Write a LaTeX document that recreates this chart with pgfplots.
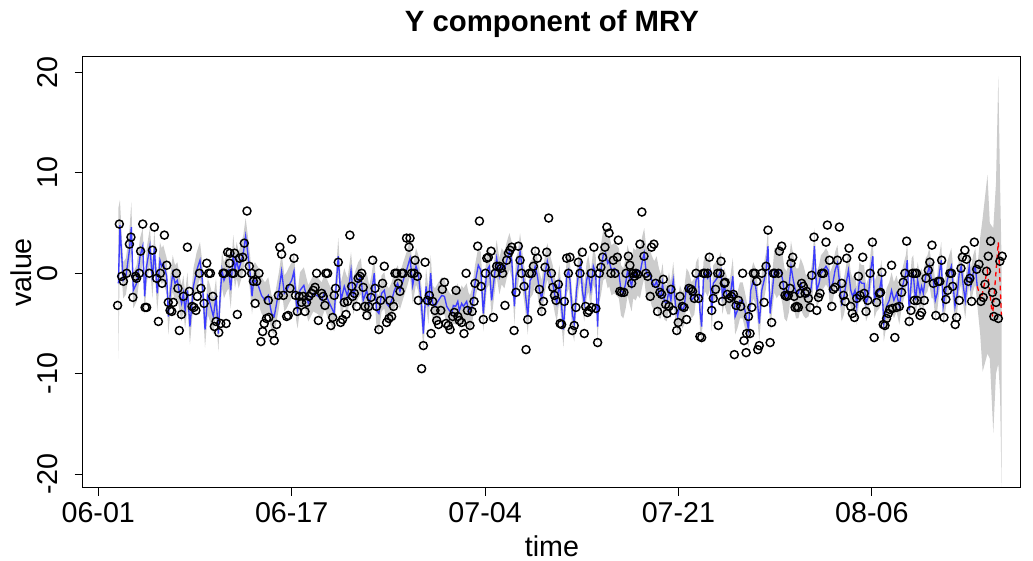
\documentclass[border=0pt]{standalone}
\usepackage{pgfplots}
\pgfplotsset{compat=1.18}
\usepackage{pgfplotstable}
\usepgfplotslibrary{fillbetween}
\usepackage{fontspec}
\setmainfont{Liberation Sans}
\definecolor{bandgray}{RGB}{204,204,204}
\definecolor{fitblue}{RGB}{60,60,255}

\pgfplotstableread{
x y
10.0 -3.2
10.9 4.9
12.1 -0.3
13.0 -0.8
14.7 0
16.1 2.9
16.9 3.6
17.9 -2.4
19.3 -0.3
19.8 -0.5
21.2 0
21.9 2.2
23.0 4.9
24.2 -3.4
25.0 -3.4
26.4 0
28.0 2.3
29.0 4.6
30.2 -0.5
31.1 -4.8
32.1 0
33.0 -1.0
34.2 3.8
35.4 0.8
36.2 -2.9
37.1 -3.7
38.0 -3.8
38.8 -2.9
40.4 0
41.2 -1.5
41.9 -5.7
43.0 -4.1
44.0 -2.3
46.1 2.6
47.1 -1.8
48.5 -3.3
49.5 -3.4
50.5 -3.7
51.2 -2.3
52.3 0
53.1 -1.5
54.7 -3.0
56.1 1.0
57.1 0
58.0 0
59.2 -2.3
60.0 -5.3
60.9 -4.8
62.3 -5.9
63.3 -5.0
64.5 0
65.2 0
66.1 -5.0
66.9 2.1
67.9 1.0
68.1 2.0
69.2 0
70.0 0
70.5 2.0
71.9 -4.1
73.0 1.5
74.2 0
74.7 1.6
75.5 3.0
76.9 6.2
78.1 0.7
79.3 0
80.2 -0.8
81.1 -3.0
81.9 -0.8
83.1 0
84.1 -6.8
85.0 -5.8
85.8 -5.0
87.0 -4.5
87.9 -2.7
88.2 -4.4
90.1 -6.0
91.0 -6.7
92.2 -5.1
93.1 -2.2
93.9 2.6
94.8 1.9
95.7 -2.2
97.4 -4.3
98.2 -4.2
99.1 -1.5
100.0 3.4
101.2 1.5
102.0 -2.2
102.9 -3.8
103.9 -2.3
105.1 -2.9
106.0 -2.3
106.9 -3.8
107.7 -2.9
108.9 -2.3
110.3 -2.0
111.2 -1.7
112.1 -1.4
112.9 0
113.8 -4.7
115.5 -2.0
116.3 -2.3
117.2 -3.2
117.7 0
118.6 0
120.3 -5.2
121.2 -4.4
122.0 -2.2
122.7 -1.5
124.1 1.1
125.3 -4.9
126.3 -4.6
127.2 -2.9
128.1 -4.1
128.9 -2.8
130.1 3.8
131.0 -1.3
131.5 -2.3
132.4 -2.0
133.6 -3.3
134.4 -0.5
135.3 -0.3
136.2 0
137.0 -1.4
137.9 -3.3
138.9 -4.2
139.8 -3.3
141.0 -2.4
141.9 1.3
143.1 -1.5
143.9 -3.3
145.1 -5.6
146.0 -2.7
147.0 -1.0
147.9 0.7
149.1 -4.9
150.3 -4.5
150.8 -2.7
151.7 -4.3
152.7 -3.3
153.4 0
154.3 0
155.1 -1.0
156.0 -1.8
156.9 0
157.7 0
159.4 3.5
160.7 2.6
161.2 3.5
162.0 0
163.3 0
163.8 1.3
165.0 -0.3
165.5 -2.7
167.2 -9.5
168.1 -7.2
169.0 1.1
170.2 -2.7
171.2 -2.2
172.1 -6.0
172.9 -2.8
174.1 -3.7
175.0 -4.7
175.9 -5.1
177.1 -3.7
177.9 -1.6
179.0 -0.9
179.8 -5.0
181.0 -5.2
181.9 -5.6
183.3 -4.3
184.1 -3.9
185.0 -1.7
185.9 -4.3
186.7 -4.7
187.9 -4.9
189.1 -6.0
190.2 0
190.9 -3.7
192.2 -5.2
193.3 -3.8
194.3 -2.8
194.8 -1.0
196.2 2.7
197.1 5.2
197.9 -1.3
199.1 -4.6
200.2 0
200.9 1.5
201.7 1.6
203.1 2.2
204.3 -4.4
205.2 0
206.0 0.7
207.4 0.7
208.3 0.5
209.1 0
210.3 -3.2
211.2 1.3
212.1 2.0
212.9 2.3
213.8 2.6
215.0 -5.7
216.0 -1.9
217.2 2.7
218.1 1.3
218.9 0
220.2 -1.3
221.2 -7.6
222.1 -4.6
222.9 0
224.1 0
225.0 0.7
226.0 2.2
227.1 1.5
228.1 -1.6
229.3 -3.8
230.2 -2.8
231.0 0.6
231.9 2.1
232.9 5.5
234.3 0
235.0 -1.4
235.9 -2.2
236.7 -2.7
237.9 -1.1
238.8 -5.0
239.6 -5.1
241.0 -2.8
242.2 1.5
243.1 0
243.9 1.6
245.1 -5.7
246.1 -5.2
247.0 -3.4
248.2 1.1
249.1 0
250.3 2.1
251.3 -6.0
252.0 -3.3
253.0 -3.9
253.7 -3.7
254.8 0
255.1 -3.4
256.3 2.6
257.3 -3.5
258.2 -6.9
259.1 0
259.9 0.6
260.8 1.6
262.0 2.6
263.0 4.6
264.1 4.0
265.1 0
266.3 1.3
267.2 0
268.4 1.6
268.9 3.3
269.7 -1.8
270.6 -1.9
271.8 -1.9
272.9 0
274.1 1.7
274.9 0.8
275.8 -1.0
276.6 0
277.2 -0.3
278.0 0
278.9 -0.1
280.1 2.9
281.1 6.1
282.2 1.7
283.2 0
284.1 -0.3
285.4 -2.3
286.1 2.6
287.3 2.9
288.2 -1.0
289.2 -3.8
290.4 -1.9
291.3 -2.1
292.2 -0.6
293.4 -3.1
294.1 -4.0
295.1 -3.3
296.1 -1.6
297.3 -3.7
299.1 -5.7
299.9 -4.9
300.8 -2.3
302.0 -3.3
302.9 -3.4
304.2 -4.6
305.4 -1.5
306.5 -1.6
307.3 -1.8
308.2 -2.5
309.1 0
310.3 -2.5
311.1 -6.3
312.0 -6.4
312.9 0
313.7 0
315.1 0
316.0 1.6
317.2 -3.7
318.0 -2.5
319.2 -1.6
320.3 0
320.6 -5.2
321.5 0
322.0 1.2
322.7 -2.8
323.7 -1.0
324.1 -0.9
325.3 -2.1
326.3 -2.5
327.5 -2.3
328.4 -2.1
328.9 -8.1
329.8 -3.2
331.0 -2.7
332.2 -3.3
333.2 0
333.9 -6.7
335.0 -7.9
335.3 -6.0
336.2 -4.3
337.0 -6.0
337.9 -3.4
338.7 0
339.6 0
340.5 -0.8
341.0 -7.6
341.8 -7.2
343.1 0
344.3 -2.9
345.3 0.7
346.3 4.3
347.4 -6.9
348.2 -4.9
349.1 0
349.9 0
351.7 0
352.2 2.2
353.4 2.7
354.3 -1.2
355.1 -2.2
356.0 -2.3
356.8 -2.2
357.7 -1.5
358.2 1.0
359.1 1.6
359.8 -2.3
360.3 -3.4
361.2 -3.3
362.0 -3.4
362.9 -2.0
363.7 -1.0
364.6 -1.3
365.5 -2.0
366.3 -1.8
367.2 -2.5
368.1 -3.4
368.9 -0.2
370.1 3.6
371.5 -3.7
372.4 -2.4
373.2 -2.0
374.1 0
375.0 0
376.3 3.1
377.0 4.8
378.1 1.3
379.3 -3.3
380.1 -1.6
381.0 -1.4
382.2 1.3
383.2 4.6
384.4 -1.0
385.3 -2.2
386.2 -2.8
387.0 1.5
388.2 2.5
389.1 -3.3
389.9 -4.0
391.0 -4.4
392.2 -2.5
393.1 -0.3
393.9 -2.2
395.3 1.6
396.0 -2.0
397.0 -3.8
397.9 -2.7
399.1 0
400.3 3.1
401.2 -6.4
402.5 -2.9
403.9 -2.0
404.5 -1.9
405.2 0.1
405.9 -5.1
406.8 -5.2
407.6 -4.5
408.5 -4.0
409.3 -3.6
410.2 0.8
410.7 -3.5
411.9 -6.4
412.8 -3.4
414.2 -3.3
415.4 -1.9
416.2 -0.9
417.1 0
418.0 3.2
419.3 -4.8
420.2 -3.7
421.1 0
421.9 -2.7
422.3 0
423.1 0
423.4 -2.7
424.9 -4.2
425.7 -3.9
427.1 -2.7
428.0 -0.5
429.2 0.3
430.0 1.1
431.1 2.8
431.8 -1.0
433.1 -4.2
434.3 -0.8
435.2 -0.8
436.1 1.3
437.3 -4.4
438.3 -2.6
439.2 -1.7
440.4 0
441.2 0
441.8 -1.3
443.1 -5.1
443.8 -4.4
445.2 -2.7
446.1 0.5
446.8 1.6
448.1 2.3
449.0 1.4
449.9 -0.8
450.7 -0.5
451.6 -2.8
453.0 3.1
454.2 0.4
455.4 0.9
456.4 -2.8
457.6 -2.4
458.5 -1.1
459.3 0.2
460.2 1.7
461.4 3.2
462.4 -1.9
463.1 -4.3
464.2 -2.9
465.4 -4.5
466.2 1.2
467.4 1.7
}\obs

\pgfplotstableread{
x f w
10.4 -1.0 7.5
11.2 4.8 2.5
12.9 -0.7 1.8
14.3 -0.3 1.8
16.1 2.3 2.0
17.1 4.6 2.5
18.1 -1.7 1.8
19.8 -1.0 1.8
21.6 1.7 1.8
23.0 2.7 1.8
24.0 -2.3 1.8
25.0 0.7 1.8
26.7 2.7 1.8
28.0 -0.7 1.8
29.0 2.5 1.8
30.5 -2.0 1.8
31.9 1.3 1.8
32.8 0.7 1.8
33.6 1.0 1.8
35.4 -0.3 1.8
36.2 -4.3 1.8
37.4 -1.7 1.8
38.5 0 1.8
39.7 -1.0 1.8
40.9 -0.7 1.8
42.3 -2.3 1.8
43.1 -3.0 1.8
44.0 -2.0 1.8
44.9 -3.7 1.8
46.1 -1.7 1.8
47.4 -5.3 1.8
49.2 -1.3 1.8
50.9 0.3 1.8
52.6 1.3 1.8
53.8 -0.7 1.8
55.2 -5.6 1.8
56.6 -2.3 1.8
57.8 -3.0 1.8
59.5 -4.3 1.8
60.9 -2.3 1.8
62.1 -6.0 1.8
63.0 -2.3 1.8
64.0 0.3 1.8
65.0 -0.7 1.8
66.4 0 1.8
67.4 0.3 1.8
68.5 -1.7 1.8
69.8 2.0 1.8
70.7 0.3 1.8
71.6 1.3 1.8
72.6 0.3 1.8
73.6 1.0 1.8
75.0 2.0 1.8
76.2 3.7 1.8
77.3 2.0 1.8
78.5 0 1.8
79.5 -2.3 1.8
80.2 -1.0 1.8
81.0 -0.7 1.8
82.7 -1.2 1.8
84.4 -2.2 1.8
86.2 -2.7 1.8
87.9 -2.2 1.8
89.6 -4.0 1.8
91.0 -4.3 1.8
92.2 -3.0 1.8
93.4 -1.7 1.8
94.8 0.2 1.8
96.2 -2.0 1.8
97.4 -1.7 1.8
98.6 -1.2 1.8
100.0 -0.7 1.8
101.2 0.2 1.8
102.4 -3.0 1.8
103.1 -3.7 1.8
104.3 -1.7 1.8
106.3 -1.2 1.8
108.6 -3.0 1.8
111.2 -2.0 1.8
113.8 -2.3 1.8
115.5 -2.7 1.8
117.2 -1.8 1.8
118.9 -2.7 1.8
122.0 -4.0 1.8
124.1 1.7 1.8
125.5 -2.7 1.8
127.2 -1.3 1.8
128.9 -2.3 1.8
130.7 0.3 1.8
131.9 -2.3 1.8
132.7 -1.7 1.8
134.4 -0.7 1.8
135.8 -0.3 1.8
137.0 -2.7 1.8
138.8 -1.7 1.8
140.1 -3.0 1.8
141.3 -2.0 1.8
142.7 0 1.8
143.9 -3.7 1.8
145.1 -4.0 1.8
146.5 -2.0 1.8
147.9 -1.7 1.8
149.1 -3.0 1.8
150.3 -3.3 1.8
151.7 -2.7 1.8
153.1 -1.7 1.8
154.8 -1.0 1.8
156.0 -1.8 1.8
157.7 -0.7 1.8
159.4 0.3 1.8
161.2 1.5 1.8
162.6 -1.2 1.8
164.3 0.7 1.8
165.5 0 1.8
167.2 -3.3 1.8
168.1 -6.0 1.8
169.5 -1.3 1.8
170.7 -3.3 1.8
171.9 0 1.8
172.9 -3.0 1.8
174.1 -3.3 1.8
175.9 -2.7 1.8
177.6 -2.2 1.8
179.0 -2.3 1.8
180.2 -3.3 1.8
181.5 -3.7 1.8
182.8 -4.0 1.8
183.6 -3.2 1.8
184.8 -3.3 1.8
185.9 -2.8 1.8
186.7 -3.7 1.8
187.9 -3.0 1.8
188.8 -3.3 1.8
190.5 -2.8 1.8
191.4 -3.7 1.8
192.2 -4.0 1.8
193.3 -3.3 1.8
194.8 -1.0 1.8
196.5 0.8 1.8
197.8 0.3 1.8
199.1 -4.0 1.8
200.9 0.3 1.8
202.2 0.7 1.8
203.4 -2.7 1.8
204.6 -0.7 1.8
206.0 1.5 1.8
207.4 -0.3 1.8
208.6 0.7 1.8
210.0 0.3 1.8
211.2 1.3 1.8
212.6 2.2 1.8
213.8 1.3 1.8
215.2 -3.3 1.8
216.0 -0.3 1.8
216.9 0.3 1.8
218.1 2.2 1.8
219.5 0 1.8
220.7 -1.7 1.8
222.1 -4.3 1.8
223.3 -0.7 1.8
224.7 -0.3 1.8
225.9 0.7 1.8
227.1 -0.3 1.8
228.1 -1.7 1.8
229.3 -2.5 1.8
231.0 0 1.8
232.2 1.2 1.8
233.6 0 1.8
235.0 -1.0 1.8
236.2 -2.3 1.8
237.1 -3.0 1.8
238.4 -1.0 1.8
239.6 -3.3 1.8
240.5 -5.6 1.8
241.4 -3.0 1.8
242.2 -0.3 1.8
243.2 0.3 1.8
243.9 -0.7 1.8
245.1 -4.0 1.8
246.1 -5.0 1.8
247.3 -1.7 1.8
248.5 0.3 1.8
249.4 1.0 1.8
250.3 -1.7 1.8
251.3 -3.0 1.8
252.5 -0.7 1.8
253.4 0 1.8
254.7 -1.7 1.8
256.0 0.7 1.8
257.2 0 1.8
258.2 -5.3 1.8
259.1 -0.7 2.2
259.9 0.3 2.5
261.1 1.8 2.5
262.3 2.0 2.5
263.4 1.0 2.5
264.2 1.2 2.5
265.4 0.3 2.5
266.8 0.5 2.5
268.0 0.3 2.5
269.2 0 2.5
270.3 -1.7 2.5
271.5 -2.0 2.5
272.7 -1.0 2.5
273.7 0.3 2.5
274.9 -0.7 2.5
275.8 -1.3 2.5
276.6 0 2.5
277.9 -0.2 2.5
278.9 0.3 2.5
280.1 0 2.5
281.3 1.2 2.5
282.3 2.0 2.5
283.2 0.3 2.5
284.1 -0.3 2.5
285.3 0 2.5
286.1 -0.7 2.5
287.5 -1.3 2.5
288.7 -0.8 2.5
289.9 -2.0 2.5
290.9 -2.3 2.2
291.8 -1.0 2.0
292.7 -2.8 1.8
293.9 -3.0 1.8
295.1 -1.7 1.8
296.1 -2.7 1.8
297.3 -0.7 1.8
298.5 -3.2 1.8
299.6 -4.3 1.8
300.8 -3.0 1.8
302.0 -3.7 1.8
303.0 -3.3 1.8
304.2 -1.3 1.8
305.4 -1.7 1.8
306.8 -2.7 1.8
308.2 -2.3 1.8
309.1 -0.7 1.8
310.3 -0.2 1.8
311.1 -3.7 1.8
312.0 -5.3 1.8
312.9 -0.7 1.8
313.7 0 1.8
315.1 -0.5 1.8
316.3 0.2 1.8
317.2 -4.0 1.8
318.0 -1.0 1.8
319.2 -0.7 1.8
320.6 -0.3 1.8
322.0 0.3 1.8
322.7 -2.3 1.8
323.7 -1.3 1.8
325.3 -2.3 1.8
326.7 -2.3 1.8
328.1 -0.3 1.8
329.3 -4.3 1.8
330.5 -3.7 1.8
331.8 -2.7 1.8
333.2 -2.7 1.8
334.4 -3.7 1.8
336.2 -5.6 1.8
337.4 -1.7 1.8
338.7 -0.7 1.8
339.9 -1.3 1.8
340.8 -2.7 1.8
341.8 -5.0 1.8
343.1 -1.7 1.8
344.3 -0.7 1.8
345.3 0.3 1.8
346.3 2.7 1.8
347.4 -4.0 1.8
348.6 -1.7 1.8
349.6 0.3 2.2
350.8 0 2.5
351.7 0.3 2.5
352.9 0.3 2.5
353.9 -0.7 2.5
354.8 -2.0 2.5
356.0 -2.3 2.5
357.2 -1.3 2.5
358.2 0.7 2.5
359.4 -0.7 2.5
360.8 -2.0 2.5
362.0 -2.0 2.5
363.2 -1.0 2.5
364.6 -1.7 2.5
365.8 -2.3 2.2
367.2 -2.3 2.0
368.4 -1.7 1.8
369.4 -0.3 1.8
370.3 2.7 1.8
371.5 -1.7 1.8
372.7 -1.0 1.8
373.7 0 1.8
375.0 0.3 1.8
376.3 0.7 1.8
377.5 0.3 1.8
378.4 -1.7 1.8
379.8 -1.0 1.8
381.0 0.3 1.8
382.2 1.0 1.8
383.2 -0.7 1.8
384.4 -3.0 1.8
385.6 -2.3 1.8
386.7 -1.0 1.8
387.9 0.3 1.8
389.1 -1.7 1.8
390.1 -2.3 1.8
391.3 -1.7 1.8
392.2 -3.3 1.8
393.6 -0.7 1.8
394.8 -1.0 1.8
396.0 -1.0 1.8
397.0 -3.0 1.8
398.2 -2.3 1.8
399.4 0.3 1.8
400.5 1.7 1.8
401.3 -2.7 1.8
402.5 -2.0 1.8
403.9 -1.7 1.8
405.0 -0.5 1.8
406.2 -5.0 1.8
407.6 -3.3 1.8
409.0 -2.7 1.8
410.2 -1.7 1.8
411.4 -2.7 1.8
412.8 -2.0 1.8
414.2 -3.3 1.8
415.4 -1.7 1.8
416.6 -0.7 1.8
417.6 0 1.8
418.3 1.3 1.8
419.3 -3.7 1.8
420.6 -0.3 1.8
421.4 0 1.8
422.6 -2.7 1.8
423.7 -0.7 1.8
424.9 -2.0 1.8
425.7 -1.3 1.8
426.6 -2.0 1.8
427.8 -0.3 1.8
428.8 0 1.8
429.7 0.7 1.8
430.9 -0.7 1.8
431.8 -0.7 1.8
432.8 -2.7 1.8
433.8 -2.0 1.8
434.9 0 1.8
435.9 1.3 1.8
436.9 -3.3 1.8
438.0 -2.0 1.8
439.0 -0.7 1.8
440.0 0 1.8
441.1 0.7 1.8
442.1 -1.3 1.8
443.0 -3.3 1.8
444.2 -2.0 1.8
445.2 0 1.8
446.2 0.7 1.8
447.3 -1.3 1.8
448.3 -2.7 1.8
449.3 -0.7 1.8
450.4 0.7 1.8
451.2 -1.3 1.8
452.4 0 1.8
453.5 0.7 1.8
454.5 -1.3 1.8
}\fit

\pgfplotstableread{
x lo hi
454.5 -3.1 0.5
456.0 -6.0 3.5
457.3 -9.8 5.5
459.8 -8.0 9.8
461.0 -8.5 5.0
462.8 -15.9 4.5
464.2 -10.0 9.0
465.4 -9.0 19.6
466.3 -12.0 9.0
467.1 -21.5 1.0
}\fcband

\pgfplotstableread{
x y
454.5 -1.3
456.5 -2.6
459.7 0.3
462.4 -4.3
465.4 3.1
467.1 -4.6
}\fc

\begin{document}
\begin{tikzpicture}
\path (0,0) rectangle (774.75pt,420.75pt);
\begin{axis}[
  at={(62pt,54.75pt)}, anchor=south west,
  scale only axis, width=703.7pt, height=323.5pt,
  xmin=-8.07, xmax=477.1, ymin=-21.38, ymax=21.57,
  axis on top,
  clip mode=individual,
  axis line style={black, line width=0.75pt},
  tick style={black, line width=0.75pt},
  tick align=outside, major tick length=6pt,
  tick pos=left,
  xtick={0,100,200,300,400},
  xticklabels={06-01,06-17,07-04,07-21,08-06},
  ytick={-20,-10,0,10,20},
  yticklabels={-20,-10,0,10,20},
  ticklabel style={font=\fontsize{21.5}{21.5}\selectfont, inner sep=0pt},
  xticklabel style={anchor=north},
  yticklabel style={rotate=90, anchor=south},
  xticklabel shift=4.5pt,
  yticklabel shift=12.5pt,
]
\addplot[draw=none, name path=bhi, forget plot] table[x=x, y expr=\thisrow{f}+\thisrow{w}] {\fit};
\addplot[draw=none, name path=blo, forget plot] table[x=x, y expr=\thisrow{f}-\thisrow{w}] {\fit};
\addplot[fill=bandgray, draw=none] fill between[of=bhi and blo];
\addplot[draw=none, name path=fhi, forget plot] table[x=x, y=hi] {\fcband};
\addplot[draw=none, name path=flo, forget plot] table[x=x, y=lo] {\fcband};
\addplot[fill=bandgray, draw=none] fill between[of=fhi and flo];
\addplot[fitblue, line width=1pt] table[x=x, y=f] {\fit};
\addplot[red, line width=1pt, dash pattern=on 3.5pt off 3pt] table[x=x, y=y] {\fc};
\addplot[only marks, mark=o, mark size=3pt, mark options={black, line width=1.1pt}] table[x=x, y=y] {\obs};
\end{axis}
\node[font=\fontsize{22}{22}\selectfont\bfseries, anchor=base, inner sep=0pt] at (413.9pt,396.75pt) {Y component of MRY};
\node[font=\fontsize{21.5}{21.5}\selectfont, anchor=base, inner sep=0pt] at (413.9pt,3pt) {time};
\node[font=\fontsize{21.5}{21.5}\selectfont, anchor=base, inner sep=0pt, rotate=90] at (23.5pt,216.5pt) {value};
\end{tikzpicture}
\end{document}
